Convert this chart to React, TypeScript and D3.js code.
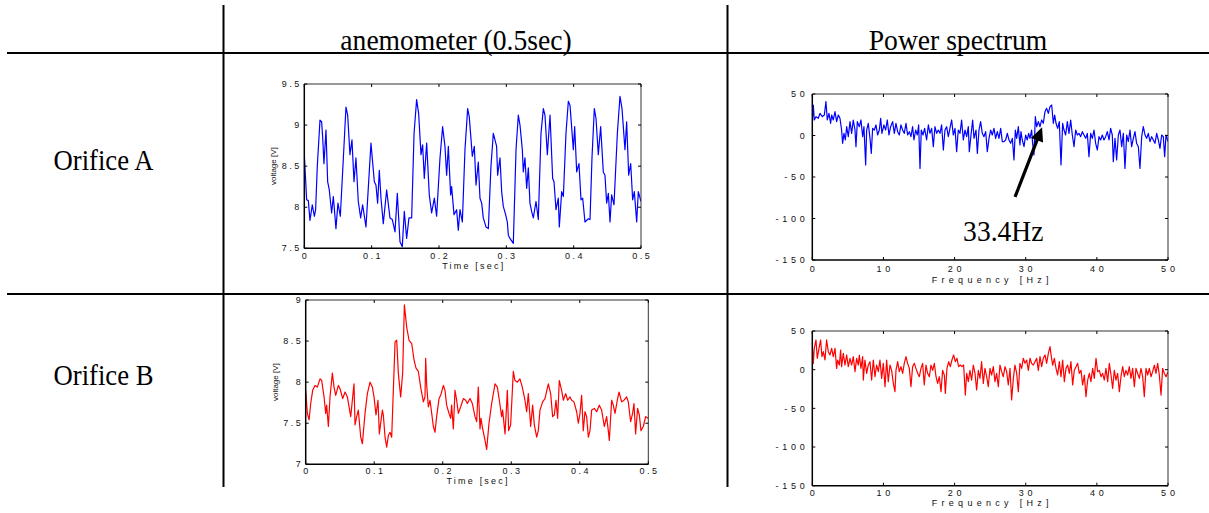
import React from "react";
import * as d3 from "d3";

// ---------------- data ----------------
const timeA = [0,0.0035,0.006,0.0084,0.0119,0.0149,0.0168,0.0193,0.0233,0.0257,0.0272,0.0292,0.0322,0.0347,0.0371,0.0406,0.0431,0.047,0.05,0.0535,0.058,0.0619,0.0644,0.0678,0.0708,0.0738,0.0767,0.0802,0.0837,0.0866,0.0916,0.099,0.104,0.1064,0.1089,0.1114,0.1139,0.1173,0.1223,0.1272,0.1307,0.1347,0.1381,0.1421,0.1455,0.1485,0.152,0.1554,0.1594,0.163,0.1668,0.1698,0.1733,0.1757,0.1782,0.1817,0.1856,0.1891,0.1931,0.1965,0.2015,0.2054,0.2089,0.2114,0.2139,0.2173,0.2188,0.2223,0.2262,0.2287,0.2312,0.2347,0.2386,0.2426,0.245,0.2495,0.2525,0.255,0.2584,0.2609,0.2634,0.2658,0.2698,0.2733,0.2772,0.2807,0.2856,0.2871,0.2906,0.2931,0.2955,0.299,0.3015,0.303,0.3054,0.3104,0.3144,0.3178,0.3203,0.3238,0.3252,0.3277,0.3302,0.3327,0.3351,0.3376,0.3401,0.3441,0.3475,0.3515,0.355,0.3574,0.3609,0.3649,0.3688,0.3708,0.3738,0.3772,0.3787,0.3822,0.3847,0.3886,0.3921,0.3946,0.3995,0.4015,0.4045,0.4079,0.4109,0.4134,0.4168,0.4218,0.4243,0.4272,0.4307,0.4332,0.4366,0.4401,0.444,0.4465,0.449,0.4515,0.454,0.4564,0.4599,0.4649,0.4688,0.4718,0.4762,0.4787,0.4817,0.4847,0.4876,0.4901,0.4936,0.496,0.5];
const voltA = [8.64,8.09,8.08,7.84,8.03,7.89,7.97,8.5,9.06,9.04,8.86,8.53,8.94,8.31,8.21,7.93,8.13,7.74,8.05,7.89,8.6,9.22,9.12,8.64,8.82,8.31,8.6,8.07,7.87,8.03,7.76,8.78,8.31,8.27,8.05,8.45,8.11,7.8,8.21,7.87,7.85,7.7,8.17,7.58,7.52,7.95,7.62,7.87,7.87,8.9,9.31,9.14,8.64,8.76,8.35,8.78,8.15,7.93,8.11,7.89,8.6,8.98,8.74,8.39,8.74,8.15,8.25,7.91,7.97,7.72,7.97,7.82,8.7,9.2,9.1,8.62,8.74,8.27,8.55,8.11,8.05,7.87,7.76,7.74,8.5,8.9,8.74,8.39,8.6,8.19,8.01,7.91,7.82,7.66,7.62,7.56,8.7,9.12,9.0,8.7,8.43,8.6,8.23,8.48,8.05,7.95,7.87,8.07,7.85,8.9,9.2,9.12,8.64,9.12,8.35,8.31,7.97,8.11,7.76,8.19,8.13,8.9,9.29,9.24,8.7,8.98,8.43,8.53,8.09,8.11,7.82,7.86,7.85,8.6,9.2,9.08,8.64,8.98,8.43,8.39,8.05,8.17,7.82,8.15,8.03,8.9,9.35,9.2,8.7,9.04,8.39,8.53,8.09,8.19,7.82,8.19,8.07];

const timeB = [0,0.0024,0.0049,0.0073,0.0102,0.0136,0.017,0.0209,0.0233,0.0268,0.0292,0.0306,0.0331,0.0355,0.0389,0.0413,0.0438,0.0477,0.0501,0.054,0.0574,0.0608,0.0637,0.0657,0.0705,0.072,0.0744,0.0768,0.0803,0.0827,0.0866,0.09,0.0939,0.0973,0.0997,0.1026,0.1055,0.1075,0.1094,0.1119,0.1133,0.1158,0.1182,0.1206,0.1231,0.1255,0.1279,0.1304,0.1328,0.1352,0.1386,0.1415,0.144,0.1474,0.1508,0.1547,0.1581,0.161,0.1644,0.1678,0.1717,0.1741,0.1751,0.1766,0.179,0.1814,0.1839,0.1863,0.1887,0.1911,0.1946,0.197,0.2009,0.2033,0.2057,0.2091,0.2116,0.213,0.2155,0.2179,0.2203,0.2228,0.2262,0.2301,0.2335,0.2359,0.2398,0.2432,0.2471,0.2495,0.2519,0.2544,0.2558,0.2583,0.2617,0.2641,0.2675,0.2714,0.2763,0.2797,0.2826,0.286,0.2874,0.2909,0.2923,0.2943,0.2962,0.2991,0.303,0.3054,0.3089,0.3127,0.3161,0.32,0.3225,0.3249,0.3283,0.3312,0.3337,0.3371,0.3395,0.3419,0.3458,0.3492,0.3541,0.3575,0.3604,0.3628,0.3653,0.3677,0.3701,0.3735,0.376,0.3794,0.3823,0.3857,0.3881,0.3915,0.3954,0.3979,0.4003,0.4027,0.4051,0.4076,0.41,0.4125,0.4149,0.4173,0.4212,0.4246,0.4285,0.4319,0.4358,0.4392,0.4416,0.4431,0.4465,0.4489,0.4514,0.4548,0.4572,0.4611,0.4645,0.4684,0.4708,0.4742,0.4771,0.4791,0.4815,0.4844,0.4869,0.4893,0.4927,0.4961,0.5];
const voltB = [7.90,7.62,7.54,7.74,7.90,7.96,7.94,8.04,8.02,7.82,7.62,7.72,7.46,7.82,8.11,7.94,7.84,7.96,7.92,7.80,7.88,7.82,7.68,7.58,7.98,7.48,7.58,7.66,7.33,7.25,7.62,7.86,8.00,7.94,7.82,7.60,7.78,7.37,7.50,7.66,7.60,7.33,7.21,7.35,7.39,7.33,7.90,8.49,8.51,8.11,7.82,8.11,8.94,8.67,8.51,8.47,8.27,8.17,8.13,7.94,7.76,7.82,8.29,7.96,7.70,7.78,7.62,7.46,7.39,7.58,7.80,7.84,7.96,7.90,7.72,7.62,7.56,7.72,7.43,7.90,7.78,7.62,7.70,7.80,7.78,7.74,7.80,7.74,7.58,7.52,7.94,7.43,7.56,7.43,7.29,7.18,7.50,7.74,7.98,7.94,7.78,7.58,7.66,7.37,7.58,7.90,7.41,7.48,8.13,8.02,8.00,8.04,7.94,7.78,7.64,7.86,7.46,7.72,7.48,7.33,7.41,7.66,7.76,7.80,7.98,7.86,7.58,7.60,7.78,7.56,8.02,7.90,7.78,7.86,7.78,7.82,7.78,7.76,7.64,7.50,7.62,7.84,7.41,7.64,7.58,7.33,7.41,7.66,7.68,7.64,7.72,7.66,7.46,7.58,7.41,7.29,7.78,7.72,7.62,7.78,7.88,7.76,7.78,7.82,7.76,7.52,7.62,7.74,7.37,7.68,7.60,7.41,7.46,7.58,7.56];

const freqA = [0,0.14,0.28,0.52,0.84,1.08,1.41,1.69,1.92,2.11,2.34,2.58,2.72,2.95,3.19,3.42,3.66,3.89,4.12,4.26,4.45,4.64,4.83,5.06,5.30,5.53,5.76,6.00,6.14,6.33,6.61,6.84,7.08,7.26,7.50,7.64,7.87,8.11,8.29,8.48,8.72,8.95,9.18,9.42,9.61,9.79,10.07,10.31,10.54,10.78,11.01,11.29,11.53,11.76,12.00,12.23,12.46,12.70,12.93,13.17,13.40,13.64,13.87,14.10,14.29,14.53,14.76,14.95,15.14,15.32,15.56,15.79,16.07,16.31,16.54,16.78,17.01,17.24,17.48,17.71,17.95,18.18,18.42,18.65,18.88,19.12,19.35,19.59,19.82,20.06,20.29,20.52,20.76,20.99,21.23,21.46,21.70,21.93,22.07,22.31,22.54,22.73,23.01,23.20,23.43,23.66,23.90,24.13,24.37,24.60,24.84,25.07,25.30,25.54,25.77,26.01,26.24,26.48,26.71,26.94,27.18,27.41,27.65,27.88,28.12,28.35,28.54,28.73,28.96,29.19,29.33,29.52,29.76,29.99,30.22,30.41,30.60,30.83,30.97,31.16,31.35,31.54,31.78,32.01,32.24,32.47,32.71,32.94,33.18,33.41,33.65,33.88,34.07,34.26,34.49,34.72,34.96,35.19,35.38,35.61,35.85,36.08,36.32,36.55,36.79,37.02,37.25,37.49,37.72,37.96,38.19,38.43,38.66,38.89,39.13,39.36,39.60,39.83,40.07,40.30,40.53,40.77,41.00,41.24,41.47,41.71,41.94,42.17,42.31,42.55,42.78,43.02,43.25,43.49,43.72,43.95,44.19,44.42,44.66,44.89,45.13,45.36,45.59,45.83,46.06,46.30,46.53,46.77,47.00,47.23,47.47,47.70,47.94,48.17,48.41,48.64,48.87,49.11,49.34,49.53,49.72,50.00];
const powerA = [16.7,36.7,18.7,22.7,20.7,26.7,22.7,24.7,40.8,18.7,26.7,14.7,24.7,18.7,28.7,16.7,24.7,20.7,6.6,-9.4,2.6,-5.4,10.6,-1.4,16.7,2.6,18.7,6.6,-13.5,16.7,10.6,18.7,-1.4,10.6,-35.5,6.6,14.7,-3.4,-21.5,8.6,6.6,12.7,0.6,6.6,20.7,2.6,12.7,6.6,18.7,0.6,10.6,16.7,2.6,14.7,4.6,0.6,12.7,6.6,2.6,14.7,0.6,4.6,-1.4,10.6,-5.4,6.6,0.6,12.7,-39.6,6.6,0.6,8.6,-5.4,12.7,2.6,8.6,-13.5,10.6,2.6,6.6,2.6,12.7,-17.5,6.6,10.6,-1.4,8.6,18.7,0.6,8.6,-19.5,6.6,2.6,18.7,-5.4,6.6,-1.4,10.6,-19.5,0.6,18.7,-3.4,6.6,-21.5,6.6,16.7,2.6,-1.4,4.6,-19.5,-3.4,6.6,0.6,8.6,-3.4,4.6,-3.4,8.6,-7.4,-7.4,-5.4,2.6,-5.4,-9.4,-3.4,-29.5,6.6,-3.4,10.6,-11.4,4.6,-5.4,-13.5,0.6,-5.4,2.6,-3.4,6.6,-9.4,-23.5,22.7,10.6,16.7,10.6,18.7,14.7,28.7,32.7,26.7,34.7,36.7,14.7,24.7,14.7,8.6,16.7,-35.5,14.7,6.6,0.6,16.7,2.6,18.7,0.6,-13.5,6.6,0.6,2.6,-1.4,4.6,0.6,-3.4,2.6,-25.5,2.6,-3.4,6.6,-9.4,-17.5,-1.4,-5.4,0.6,-5.4,-1.4,4.6,-5.4,8.6,0.6,-31.5,-3.4,-29.5,0.6,6.6,-13.5,2.6,-39.6,0.6,-7.4,6.6,-13.5,-3.4,4.6,-9.4,-13.5,-39.6,-1.4,10.6,0.6,-3.4,2.6,-7.4,-1.4,-5.4,-9.4,2.6,-5.4,-15.5,0.6,-1.4,-25.5,0.6,-7.4];

const freqB = [0,0.14,0.28,0.52,0.70,0.94,1.17,1.36,1.55,1.78,2.01,2.25,2.48,2.72,2.95,3.19,3.42,3.56,3.80,3.98,4.12,4.36,4.59,4.83,5.06,5.30,5.53,5.76,6.00,6.23,6.47,6.61,6.84,7.08,7.17,7.40,7.64,7.87,8.11,8.34,8.58,8.81,9.04,9.28,9.51,9.75,9.98,10.22,10.45,10.68,10.92,11.15,11.39,11.62,11.76,12.00,12.23,12.46,12.70,12.93,13.17,13.40,13.64,13.87,14.10,14.34,14.57,14.81,15.04,15.28,15.51,15.74,15.98,16.21,16.45,16.68,16.92,17.15,17.39,17.62,17.85,18.09,18.32,18.56,18.70,18.93,19.17,19.40,19.63,19.87,20.10,20.34,20.57,20.81,21.04,21.27,21.51,21.70,21.93,22.16,22.40,22.63,22.87,23.10,23.34,23.57,23.80,24.04,24.27,24.51,24.74,24.98,25.21,25.45,25.68,25.91,26.15,26.38,26.62,26.85,27.09,27.32,27.55,27.79,28.02,28.26,28.49,28.73,28.96,29.19,29.43,29.66,29.90,30.13,30.37,30.60,30.83,31.07,31.30,31.54,31.77,32.01,32.24,32.47,32.71,32.94,33.18,33.41,33.60,33.79,34.02,34.26,34.49,34.72,34.96,35.19,35.43,35.66,35.89,36.13,36.36,36.60,36.83,37.07,37.30,37.53,37.77,38.00,38.24,38.47,38.71,38.94,39.17,39.41,39.64,39.88,40.11,40.35,40.58,40.81,41.05,41.28,41.52,41.75,41.99,42.22,42.45,42.69,42.92,43.16,43.39,43.63,43.86,44.09,44.33,44.56,44.80,45.03,45.27,45.50,45.73,45.97,46.20,46.44,46.67,46.91,47.14,47.38,47.61,47.84,48.08,48.31,48.55,48.78,49.02,49.25,49.48,49.72,50.00];
const powerB = [31.9,8.2,27.6,38.4,14.7,27.6,38.4,16.8,23.3,12.5,38.4,23.3,19,27.6,16.8,27.6,1.7,12.5,6,25.4,3.9,21.1,6,19,3.9,14.7,6,16.8,-2.6,14.7,6,19,1.7,16.8,-13.4,12.5,-4.7,6,10.3,-13.4,12.5,-9.1,6,-2.6,12.5,-11.2,8.2,-22,12.5,-15.5,6,-0.9,-17.7,-28.4,-0.9,10.3,-2.6,3.9,-4.7,8.2,16.8,8.2,1.7,-22,3.9,8.2,1.7,-4.7,-9.1,1.7,8.2,-19.8,6,-4.7,-9.1,6,-0.9,8.2,-9.1,-17.7,-9.1,-28.4,-0.9,-6.9,-30.6,1.7,10.3,3.9,12.5,19,10.3,14.7,3.9,6,3.9,6,-32.8,-4.7,-15.5,-0.9,-13.4,6,-4.7,-26.3,-0.9,-11.2,10.3,-17.7,1.7,-9.1,-22,1.7,-6.9,3.9,-15.5,-4.7,-22,6,-2.6,-9.1,3.9,-2.6,-19.8,1.7,-39.2,-11.2,6,-4.7,-28.4,8.2,1.7,14.7,8.2,12.5,-0.9,14.7,8.2,6,10.3,14.7,-0.9,16.8,3.9,14.7,19,8.2,21.1,29.7,16.8,6,14.7,1.7,-6.9,10.3,-9.1,12.5,-15.5,1.7,6,-4.7,10.3,-19.8,-0.9,3.9,8.2,-4.7,-0.9,-19.8,-6.9,-34.9,-13.4,-4.7,-15.5,1.7,-11.2,14.7,-2.6,-0.9,-9.1,-4.7,-13.4,1.7,-15.5,8.2,-6.9,-24.1,-0.9,-13.4,-4.7,-28.4,-9.1,3.9,-9.1,-0.9,-6.9,3.9,-11.2,1.7,-22,1.7,-4.7,-11.2,1.7,-9.1,-34.9,1.7,-6.9,1.7,-9.1,-2.6,6,-4.7,8.2,-6.9,-32.8,1.7,-4.7,-9.1,-2.6];

const timeTicks = [0, 0.1, 0.2, 0.3, 0.4, 0.5];
const voltTicksA = [7.5, 8, 8.5, 9, 9.5];
const voltTicksB = [7, 7.5, 8, 8.5, 9];
const freqTicks = [0, 10, 20, 30, 40, 50];
const powerTicks = [-150, -100, -50, 0, 50];

const columnHeaders = ["anemometer (0.5sec)", "Power spectrum"];
const rowHeaders = ["Orifice A", "Orifice B"];
const peakLabel = "33.4Hz";
const arrowTail = [28.5, -74];
const arrowTip = [32.3, 10];
const peakLabelPos = [21.2, -127];

const SANS = "'Liberation Sans', Arial, sans-serif";
const SERIF = "'Liberation Serif', 'Times New Roman', serif";

type Box = { l: number; r: number; t: number; b: number };

function Panel(props: {
  id: string;
  box: Box;
  xDomain: [number, number];
  yDomain: [number, number];
  xTicks: number[];
  yTicks: number[];
  xs: number[];
  ys: number[];
  color: string;
  xTitle: string;
  yTitle?: string;
  tickLs: number;
  titleLs: number;
  xTickOff: number;
  xTitleOff: number;
  yTickGap: number;
  children?: (x: d3.ScaleLinear<number, number>, y: d3.ScaleLinear<number, number>) => React.ReactNode;
}) {
  const { box, xTicks, yTicks, tickLs, titleLs } = props;
  const x = d3.scaleLinear().domain(props.xDomain).range([box.l, box.r]);
  const y = d3.scaleLinear().domain(props.yDomain).range([box.b, box.t]);
  const n = Math.min(props.xs.length, props.ys.length);
  const pts: [number, number][] = d3.range(n).map((i) => [props.xs[i], props.ys[i]]);
  const line = d3
    .line<[number, number]>()
    .x((d) => x(d[0]))
    .y((d) => y(d[1]));
  const tl = 3;
  return (
    <g>
      <defs>
        <clipPath id={props.id}>
          <rect x={box.l} y={box.t} width={box.r - box.l} height={box.b - box.t} />
        </clipPath>
      </defs>
      <path d={line(pts) || ""} fill="none" stroke={props.color} strokeWidth={1.2} strokeLinejoin="round" clipPath={`url(#${props.id})`} />
      {/* frame */}
      <line x1={box.l} x2={box.r} y1={box.t} y2={box.t} stroke="#333" strokeWidth={1} />
      <line x1={box.r} x2={box.r} y1={box.t} y2={box.b} stroke="#333" strokeWidth={1} />
      <line x1={box.l} x2={box.l} y1={box.t} y2={box.b} stroke="#000" strokeWidth={1.5} />
      <line x1={box.l} x2={box.r} y1={box.b} y2={box.b} stroke="#000" strokeWidth={1.5} />
      {xTicks.map((v, i) => (
        <g key={"xt" + i}>
          <line x1={x(v)} x2={x(v)} y1={box.b} y2={box.b - tl} stroke="#000" strokeWidth={1} />
          <line x1={x(v)} x2={x(v)} y1={box.t} y2={box.t + tl} stroke="#000" strokeWidth={1} />
          <text
            x={x(v) + tickLs / 2}
            y={box.b + props.xTickOff}
            textAnchor="middle"
            fontFamily={SANS}
            fontSize={9}
            style={{ letterSpacing: tickLs + "px" }}
            fill="#111"
          >
            {String(v)}
          </text>
        </g>
      ))}
      {yTicks.map((v, i) => (
        <g key={"yt" + i}>
          <line x1={box.l} x2={box.l + tl} y1={y(v)} y2={y(v)} stroke="#000" strokeWidth={1} />
          <line x1={box.r} x2={box.r - tl} y1={y(v)} y2={y(v)} stroke="#000" strokeWidth={1} />
          <text
            x={box.l - props.yTickGap + tickLs}
            y={y(v)}
            dy="0.35em"
            textAnchor="end"
            fontFamily={SANS}
            fontSize={9}
            style={{ letterSpacing: tickLs + "px" }}
            fill="#111"
          >
            {String(v)}
          </text>
        </g>
      ))}
      <text
        x={(box.l + box.r) / 2 + titleLs / 2}
        y={box.b + props.xTitleOff}
        textAnchor="middle"
        fontFamily={SANS}
        fontSize={9}
        style={{ letterSpacing: titleLs + "px" }}
        fill="#111"
      >
        {props.xTitle}
      </text>
      {props.yTitle ? (
        <text
          transform={`translate(${box.l - 28},${(box.t + box.b) / 2}) rotate(-90)`}
          textAnchor="middle"
          fontFamily={SANS}
          fontSize={8}
          fill="#111"
        >
          {props.yTitle}
        </text>
      ) : null}
      {props.children ? props.children(x, y) : null}
    </g>
  );
}

function BigText(props: { x: number; y: number; anchor: string; size: number; sx: number; children: React.ReactNode }) {
  return (
    <text
      transform={`translate(${props.x},${props.y}) scale(${props.sx},1)`}
      textAnchor={props.anchor}
      fontFamily={SERIF}
      fontSize={props.size}
      fill="#000"
    >
      {props.children}
    </text>
  );
}

export default function App() {
  const W = 1209;
  const H = 513;
  return (
    <svg
      width={W}
      height={H}
      viewBox={`0 0 ${W} ${H}`}
      style={{ position: "absolute", left: 0, top: 0, background: "#fff" }}
    >
      <rect x={0} y={0} width={W} height={H} fill="#fff" />
      {/* table rules */}
      <line x1={223.5} x2={223.5} y1={5} y2={487} stroke="#000" strokeWidth={2} />
      <line x1={727.5} x2={727.5} y1={5} y2={487} stroke="#000" strokeWidth={2} />
      <line x1={7} x2={W} y1={53} y2={53} stroke="#000" strokeWidth={2} />
      <line x1={7} x2={W} y1={294} y2={294} stroke="#000" strokeWidth={2} />

      <BigText x={456} y={49.5} anchor="middle" size={30} sx={0.92}>{columnHeaders[0]}</BigText>
      <BigText x={958} y={49.5} anchor="middle" size={30} sx={0.92}>{columnHeaders[1]}</BigText>
      <BigText x={103.5} y={169.5} anchor="middle" size={29} sx={0.92}>{rowHeaders[0]}</BigText>
      <BigText x={103.5} y={385} anchor="middle" size={29} sx={0.92}>{rowHeaders[1]}</BigText>

      <Panel
        id="clipA1"
        box={{ l: 304.3, r: 641, t: 84, b: 248.3 }}
        xDomain={[0, 0.5]}
        yDomain={[7.5, 9.5]}
        xTicks={timeTicks}
        yTicks={voltTicksA}
        xs={timeA}
        ys={voltA}
        color="#0000ff"
        xTitle="Time [sec]"
        yTitle="voltage [V]"
        tickLs={2.5}
        titleLs={2.2}
        xTickOff={10.3}
        xTitleOff={20.5}
        yTickGap={5}
      />
      <Panel
        id="clipB1"
        box={{ l: 305.7, r: 648.3, t: 300, b: 464.3 }}
        xDomain={[0, 0.5]}
        yDomain={[7, 9]}
        xTicks={timeTicks}
        yTicks={voltTicksB}
        xs={timeB}
        ys={voltB}
        color="#ff0000"
        xTitle="Time [sec]"
        yTitle="voltage [V]"
        tickLs={2.5}
        titleLs={2.2}
        xTickOff={10}
        xTitleOff={19.7}
        yTickGap={5}
      />
      <Panel
        id="clipA2"
        box={{ l: 812.3, r: 1168, t: 94, b: 260 }}
        xDomain={[0, 50]}
        yDomain={[-150, 50]}
        xTicks={freqTicks}
        yTicks={powerTicks}
        xs={freqA}
        ys={powerA}
        color="#0000ff"
        xTitle="Frequency [Hz]"
        tickLs={3.8}
        titleLs={4.3}
        xTickOff={11.7}
        xTitleOff={22.7}
        yTickGap={7.5}
      >
        {(x, y) => {
          const x0 = x(arrowTail[0]);
          const y0 = y(arrowTail[1]);
          const x1 = x(arrowTip[0]);
          const y1 = y(arrowTip[1]);
          const dx = x1 - x0;
          const dy = y1 - y0;
          const len = Math.hypot(dx, dy);
          const ux = dx / len;
          const uy = dy / len;
          const hl = 14;
          const hw = 6.5;
          const bx = x1 - ux * hl;
          const by = y1 - uy * hl;
          const head = [
            [x1, y1],
            [bx - uy * hw, by + ux * hw],
            [bx + uy * hw, by - ux * hw],
          ]
            .map((p) => p.join(","))
            .join(" ");
          return (
            <g>
              <line x1={x0} y1={y0} x2={bx + ux * 2} y2={by + uy * 2} stroke="#000" strokeWidth={3.2} />
              <polygon points={head} fill="#000" />
              <BigText x={x(peakLabelPos[0])} y={y(peakLabelPos[1])} anchor="start" size={29} sx={0.95}>
                {peakLabel}
              </BigText>
            </g>
          );
        }}
      </Panel>
      <Panel
        id="clipB2"
        box={{ l: 812.3, r: 1168, t: 331, b: 485.7 }}
        xDomain={[0, 50]}
        yDomain={[-150, 50]}
        xTicks={freqTicks}
        yTicks={powerTicks}
        xs={freqB}
        ys={powerB}
        color="#ff0000"
        xTitle="Frequency [Hz]"
        tickLs={3.8}
        titleLs={4.3}
        xTickOff={10}
        xTitleOff={20}
        yTickGap={7.5}
      />
    </svg>
  );
}
